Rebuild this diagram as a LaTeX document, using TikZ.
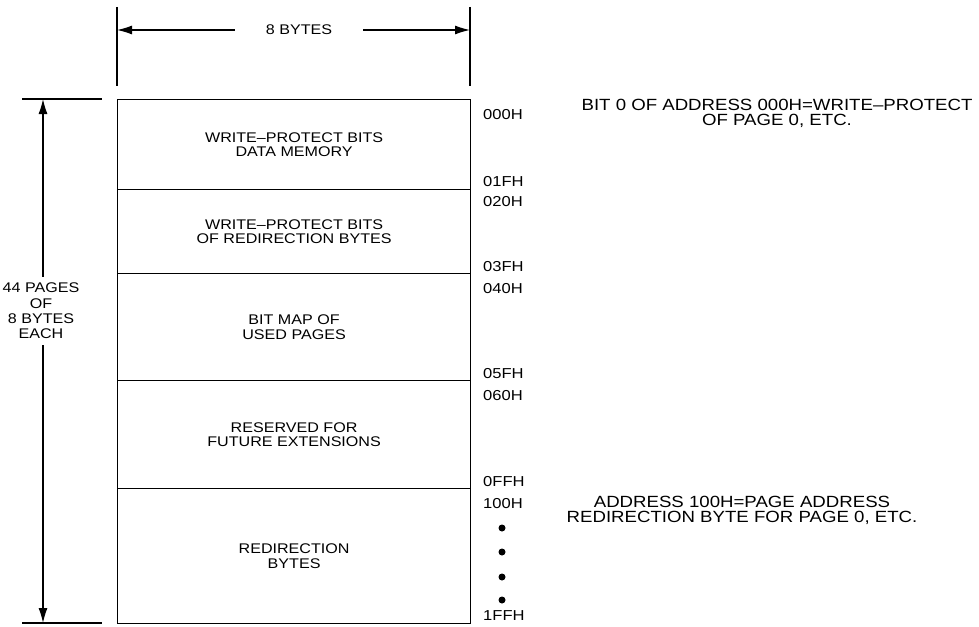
\documentclass[tikz,border=0pt]{standalone}
\usepackage{fontspec}
\setmainfont{Liberation Sans}
\newfontfamily\widefont[FakeStretch=1.15]{Liberation Sans}
\usetikzlibrary{arrows.meta}
\begin{document}
\begin{tikzpicture}[x=1pt,y=-1pt,
  txt/.style={font=\widefont\fontsize{14}{14.5}\selectfont, inner sep=0pt, align=center},
  note/.style={font=\widefont\fontsize{16.2}{15}\selectfont, inner sep=0pt, align=center},
  addr/.style={font=\widefont\fontsize{14.4}{14}\selectfont, inner sep=0pt, anchor=west},
  seg/.style={draw, line width=1.2pt, minimum width=353pt, inner sep=0pt, anchor=north west, font=\widefont\fontsize{14}{14.5}\selectfont, align=center},
  dim/.style={line width=1.2pt},
  tip/.style={-{Latex[length=15pt,width=9pt]}},
  dotn/.style={circle, fill, inner sep=0pt, minimum size=7pt}]
\useasboundingbox (0,0) rectangle (979,626);
% boxes
\node[seg, minimum height=90pt] (b1) at (117,99) {WRITE–PROTECT BITS\\DATA MEMORY};
\node[seg, minimum height=84pt] (b2) at (117,189) {WRITE–PROTECT BITS\\OF REDIRECTION BYTES};
\node[seg, minimum height=107pt] (b3) at (117,273) {BIT MAP OF\\USED PAGES};
\node[seg, minimum height=108pt] (b4) at (117,380) {RESERVED FOR\\FUTURE EXTENSIONS};
\node[seg, minimum height=135pt] (b5) at (117,488) {REDIRECTION\\BYTES};
% top dimension
\coordinate (tl1) at (117,7);
\coordinate (tl2) at (117,86);
\coordinate (tr1) at (470,7);
\coordinate (tr2) at (470,86);
\draw[dim] (tl1) -- (tl2);
\draw[dim] (tr1) -- (tr2);
\coordinate (ta) at (117,30);
\coordinate (tb) at (470,30);
\node[txt, fill=white, minimum width=128pt, minimum height=12pt] (w) at (299,30) {8 BYTES};
\draw[dim, tip] (w.west) -- (ta);
\draw[dim, tip] (w.east) -- (tb);
% left dimension
\coordinate (lt1) at (22,99);
\coordinate (lt2) at (102,99);
\coordinate (lb1) at (22,623);
\coordinate (lb2) at (102,623);
\draw[dim] (lt1) -- (lt2);
\draw[dim] (lb1) -- (lb2);
\coordinate (la) at (43,99);
\coordinate (lb) at (43,623);
\node[txt, fill=white, inner ysep=6pt, font=\widefont\fontsize{14}{15.3}\selectfont] (h) at (41,311) {44 PAGES\\OF\\8 BYTES\\EACH};
\draw[dim, tip] (h.north -| la) -- (la);
\draw[dim, tip] (h.south -| lb) -- (lb);
% addresses
\node[addr] (a000) at (483,115) {000H};
\node[addr] (a01f) at (483,182) {01FH};
\node[addr] (a020) at (483,202) {020H};
\node[addr] (a03f) at (483,267) {03FH};
\node[addr] (a040) at (483,289) {040H};
\node[addr] (a05f) at (483,374) {05FH};
\node[addr] (a060) at (483,396) {060H};
\node[addr] (a0ff) at (483,482) {0FFH};
\node[addr] (a100) at (483,504) {100H};
\node[dotn] (d1) at (502,528) {};
\node[dotn] (d2) at (502,552) {};
\node[dotn] (d3) at (502,577) {};
\node[dotn] (d4) at (502,600) {};
\node[addr] (a1ff) at (483,616) {1FFH};
% notes
\node[note] (n1) at (777,113) {BIT 0 OF ADDRESS 000H=WRITE–PROTECT\\OF PAGE 0, ETC.};
\node[note] (n2) at (742,510) {ADDRESS 100H=PAGE ADDRESS\\REDIRECTION BYTE FOR PAGE 0, ETC.};
\end{tikzpicture}
\end{document}
